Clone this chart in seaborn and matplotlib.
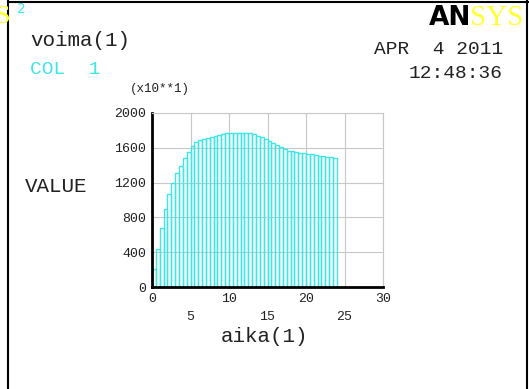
import numpy as np
import pandas as pd
import matplotlib.pyplot as plt
import seaborn as sns
from matplotlib.lines import Line2D

# Data (bars of width 0.5 in aika)
TIME = np.arange(1, 49) * 0.5
VOIMA = [212, 442, 673, 892, 1065, 1192, 1308, 1396, 1481, 1550,
         1615, 1669, 1692, 1705, 1715, 1728, 1740, 1750, 1758, 1765,
         1770, 1770, 1770, 1770, 1770, 1765, 1755, 1740, 1720, 1700,
         1680, 1655, 1630, 1605, 1585, 1568, 1558, 1550, 1543, 1536,
         1530, 1523, 1516, 1510, 1503, 1496, 1489, 1478]
X_TICKS_ROW1 = [0, 10, 20, 30]
X_TICKS_ROW2 = [5, 15, 25]
Y_TICKS = [0, 400, 800, 1200, 1600, 2000]

df = pd.DataFrame({"aika": TIME - 0.25, "voima": VOIMA})

sns.set_style("white")
plt.rcParams['font.family'] = ['Liberation Mono', 'DejaVu Sans']

W, H = 529, 389
fig = plt.figure(figsize=(W / 100, H / 100), dpi=100)
ax = fig.add_axes([152 / W, 1 - 287 / H, 231 / W, 174 / H])

cyan = "#3fe6e6"
sns.histplot(data=df, x="aika", weights="voima", bins=48, binrange=(0, 24),
             fill=False, color=cyan, linewidth=1.0, element="bars", ax=ax)

ax.set_xlim(0, 30)
ax.set_ylim(0, 2000)
ax.set_xlabel("")
ax.set_ylabel("")
ax.set_xticks(np.arange(0, 31, 5))
ax.set_yticks(Y_TICKS)
ax.set_xticklabels([])
ax.set_yticklabels([str(v) for v in Y_TICKS], fontsize=9.5, color="#222222")
ax.tick_params(axis="both", length=0, pad=4)
ax.grid(True, color="#c8c8c8", linewidth=0.8)
ax.set_axisbelow(True)
for side in ["top", "right"]:
    ax.spines[side].set_color("#c8c8c8")
    ax.spines[side].set_linewidth(0.8)
for side in ["left", "bottom"]:
    ax.spines[side].set_color("black")
    ax.spines[side].set_linewidth(2)

# staggered x tick labels as ANSYS draws them
for v in X_TICKS_ROW1:
    ax.text(v, -140, str(v), transform=ax.transData, ha="center", va="center",
            fontsize=9.5, color="#222222", clip_on=False)
for v in X_TICKS_ROW2:
    ax.text(v, -345, str(v), transform=ax.transData, ha="center", va="center",
            fontsize=9.5, color="#222222", clip_on=False)

# frame of the ANSYS window
fig.add_artist(Line2D([8 / W, 8 / W], [0, 1], color="black", linewidth=1.5))
fig.add_artist(Line2D([8 / W, 1], [1 - 1.5 / H, 1 - 1.5 / H], color="black", linewidth=1.5))
fig.add_artist(Line2D([527 / W, 527 / W], [0, 1], color="black", linewidth=1.5))

# header texts
fig.text(-5 / W, 1 - 17 / H, "S", fontsize=19, color="#ffff33", va="center",
         family="Liberation Serif")
fig.text(17 / W, 1 - 9 / H, "2", fontsize=10, color=cyan, va="center", family="DejaVu Sans")
fig.text(30 / W, 1 - 40 / H, "voima(1)", fontsize=15, color="#222222", va="center")
fig.text(30 / W, 1 - 70 / H, "COL  1", fontsize=14, color=cyan, va="center")
fig.text(503 / W, 1 - 50 / H, "APR  4 2011", fontsize=14, color="#222222", ha="right",
         va="center")
fig.text(503 / W, 1 - 73 / H, "12:48:36", fontsize=14, color="#222222", ha="right",
         va="center")
fig.text(471 / W, 1 - 18 / H, "AN", fontsize=19, fontweight="bold", color="black",
         ha="right", va="center", family="DejaVu Sans")
fig.text(470 / W, 1 - 18 / H, "SYS", fontsize=21, color="#ffff33", ha="left", va="center",
         family="Liberation Serif")
fig.text(130 / W, 1 - 89 / H, "(x10**1)", fontsize=9, color="#222222", va="center")
fig.text(25 / W, 1 - 187 / H, "VALUE", fontsize=15, color="#222222", va="center")
fig.text(265 / W, 1 - 336 / H, "aika(1)", fontsize=15, color="#222222", ha="center",
         va="center")

plt.savefig("out.png", dpi=100)
plt.close()
